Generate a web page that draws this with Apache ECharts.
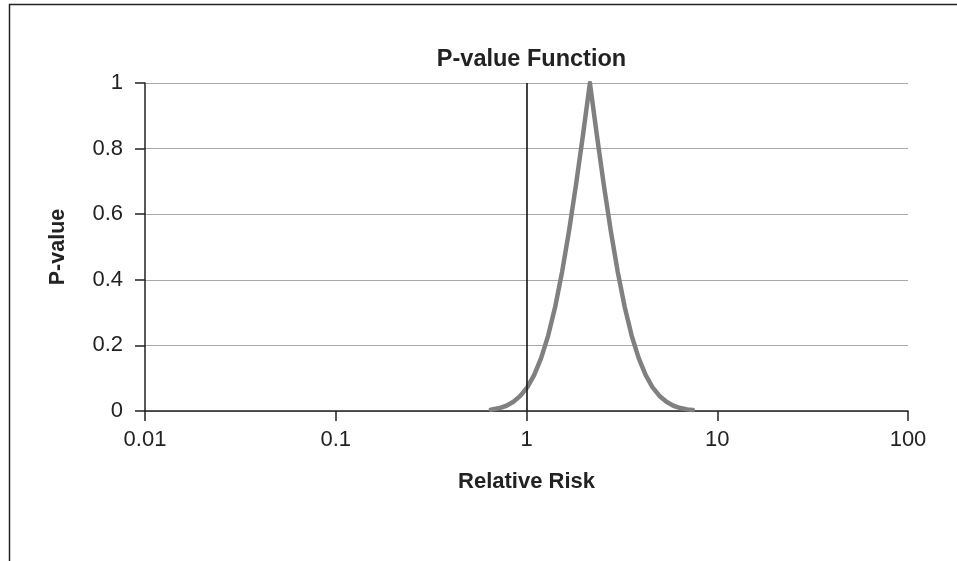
<!DOCTYPE html>
<html>
<head>
<meta charset="utf-8">
<script src="https://cdn.jsdelivr.net/npm/echarts@6/dist/echarts.min.js"></script>
<style>
html,body{margin:0;padding:0;background:#fff;}
#chart{width:957px;height:561px;}
</style>
</head>
<body>
<div id="chart"></div>
<script>
// Relative risk (x) and P-value (y)
var relativeRisk = [0.65, 0.663, 0.721, 0.785, 0.854, 0.928, 1.009, 1.098, 1.194, 1.299, 1.413, 1.537, 1.671, 1.817, 1.977, 2.15,
  2.338, 2.543, 2.766, 3.008, 3.272, 3.558, 3.87, 4.21, 4.58, 4.979, 5.416, 5.891, 6.407, 6.968, 7.45];
var pValues = [0.004, 0.005, 0.009, 0.016, 0.028, 0.046, 0.072, 0.110, 0.162, 0.230, 0.317, 0.424, 0.549, 0.689, 0.841, 1.0,
  0.841, 0.689, 0.549, 0.424, 0.317, 0.230, 0.162, 0.110, 0.072, 0.046, 0.028, 0.016, 0.009, 0.005, 0.003];
var xTickLabels = ['0.01', '0.1', '1', '10', '100'];
var yTickLabels = ['0', '0.2', '0.4', '0.6', '0.8', '1'];
var nullValue = 1;

var FONT = "'Liberation Sans', Arial, Helvetica, sans-serif";
var chart = echarts.init(document.getElementById('chart'), null, {renderer: 'canvas'});
var pts = relativeRisk.map(function (x, i) { return [x, pValues[i]]; });

chart.setOption({
  animation: false,
  backgroundColor: '#ffffff',
  graphic: [{
    type: 'rect',
    shape: {x: 9.5, y: 4.5, width: 1200, height: 1200},
    style: {fill: 'none', stroke: '#222', lineWidth: 1.5},
    silent: true, z: -1
  }],
  title: {
    text: 'P-value Function',
    left: 526.5, top: 43, textAlign: 'center',
    textStyle: {fontFamily: FONT, fontSize: 23.5, fontWeight: 'bold', color: '#222'}
  },
  grid: {left: 145, right: 49, top: 83, bottom: 150, containLabel: false},
  xAxis: {
    type: 'log', logBase: 10, min: 0.01, max: 100,
    name: 'Relative Risk', nameLocation: 'middle', nameGap: 60,
    nameTextStyle: {fontFamily: FONT, fontSize: 22, fontWeight: 'bold', color: '#222'},
    axisLine: {show: true, onZero: false, lineStyle: {color: '#222', width: 1.5}},
    axisTick: {show: true, inside: false, length: 10, lineStyle: {color: '#222', width: 1.5}},
    axisLabel: {
      margin: 18, fontFamily: FONT, fontSize: 22, color: '#222',
      formatter: function (v) {
        var e = Math.round(Math.log10(v));
        return xTickLabels[e + 2];
      }
    },
    splitLine: {show: false},
    minorTick: {show: false}
  },
  yAxis: {
    type: 'value', min: 0, max: 1, interval: 0.2,
    name: 'P-value', nameLocation: 'middle', nameRotate: 90, nameGap: 76,
    nameTextStyle: {fontFamily: FONT, fontSize: 21.5, fontWeight: 'bold', color: '#222'},
    axisLine: {show: true, lineStyle: {color: '#222', width: 1.5}},
    axisTick: {show: true, inside: false, length: 10, lineStyle: {color: '#222', width: 1.5}},
    axisLabel: {
      margin: 22, fontFamily: FONT, fontSize: 22, color: '#222',
      formatter: function (v) { return yTickLabels[Math.round(v * 5)]; }
    },
    splitLine: {show: true, lineStyle: {color: '#a8a8a8', width: 1.2}}
  },
  series: [{
    type: 'line',
    data: pts,
    showSymbol: false,
    symbol: 'none',
    smooth: false,
    lineStyle: {color: '#808080', width: 4.5, join: 'round', cap: 'round'},
    z: 3,
    markLine: {
      silent: true, symbol: 'none', animation: false,
      label: {show: false},
      lineStyle: {color: '#222', width: 1.7, type: 'solid'},
      data: [{xAxis: nullValue}]
    }
  }]
});
</script>
</body>
</html>
